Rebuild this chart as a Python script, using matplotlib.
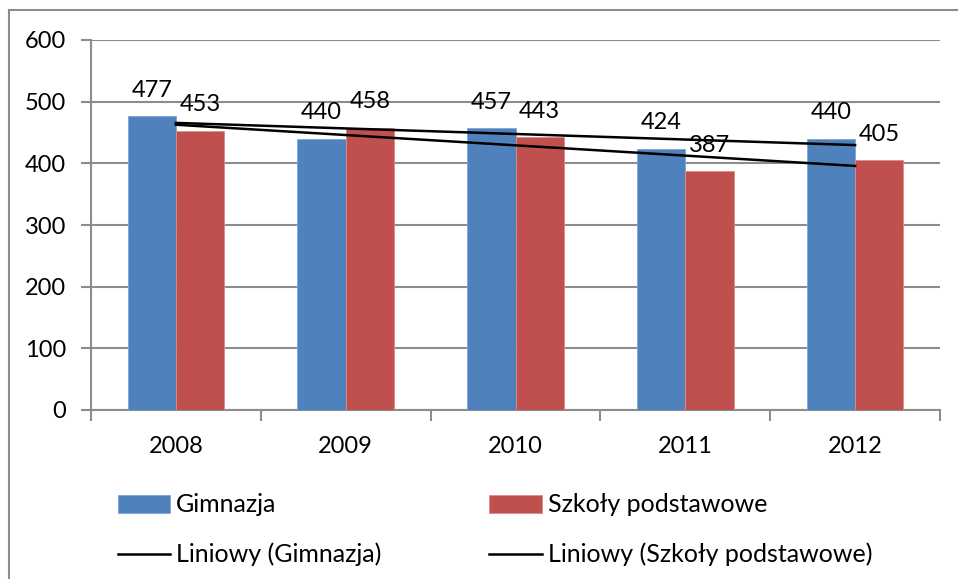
import numpy as np
import matplotlib.pyplot as plt
from matplotlib.patches import Rectangle

# --- DATA ---
years = ["2008", "2009", "2010", "2011", "2012"]
gimnazja = [477, 440, 457, 424, 440]
szkoly = [453, 458, 443, 387, 405]
series_names = ["Gimnazja", "Szkoły podstawowe"]

blue = "#4F81BD"
red = "#C0504D"
grid_col = "#8C8C8C"

plt.rcParams['font.family'] = ['Lato', 'DejaVu Sans']
fs = 17
fs_leg = 18

fig = plt.figure(figsize=(9.58, 5.79), dpi=100)
W, H = 958, 579
ax = fig.add_axes([91 / W, 1 - 410 / H, (940 - 91) / W, (410 - 40) / H])

x = np.arange(len(years))
bw = 0.285
b1 = ax.bar(x - bw / 2, gimnazja, bw, color=blue, edgecolor="#7FA6D6", linewidth=0.6, zorder=3)
b2 = ax.bar(x + bw / 2, szkoly, bw, color=red, edgecolor="#E08A88", linewidth=0.6, zorder=3)

# linear trendlines (Excel "Liniowy")
t1 = np.polyval(np.polyfit(x, gimnazja, 1), x)
t2 = np.polyval(np.polyfit(x, szkoly, 1), x)
l1, = ax.plot(x, t1, color="black", lw=1.8, zorder=4)
l2, = ax.plot(x, t2, color="black", lw=1.8, zorder=4)

for bars, vals in ((b1, gimnazja), (b2, szkoly)):
    for rect, v in zip(bars, vals):
        ax.annotate(str(v), (rect.get_x() + rect.get_width() / 2, v),
                    xytext=(0, 11), textcoords="offset points",
                    ha="center", va="bottom", fontsize=fs, zorder=5)

ax.set_xlim(-0.5, len(years) - 0.5)
ax.set_ylim(0, 600)
ax.set_yticks(range(0, 601, 100))
ax.set_xticks(x)
ax.set_xticklabels(years)
ax.set_xticks(np.arange(-0.5, len(years)), minor=True)
ax.tick_params(axis="x", which="major", length=0, pad=19, labelsize=fs)
ax.tick_params(axis="x", which="minor", length=8, width=1.5, color=grid_col, direction="out")
ax.tick_params(axis="y", length=7, width=1.5, color=grid_col, pad=11, labelsize=fs)
ax.yaxis.grid(True, color=grid_col, lw=1.5, zorder=0)
ax.set_axisbelow(True)
for s in ("top", "right"):
    ax.spines[s].set_visible(False)
for s in ("left", "bottom"):
    ax.spines[s].set_color(grid_col)
    ax.spines[s].set_linewidth(1.5)

fig.legend([b1, l1, b2, l2],
           [series_names[0], "Liniowy (" + series_names[0] + ")",
            series_names[1], "Liniowy (" + series_names[1] + ")"],
           ncol=2, loc="upper left", bbox_to_anchor=(95 / W, 1 - 471 / H),
           frameon=False, fontsize=fs_leg, handlelength=2.1, handleheight=0.72,
           handletextpad=0.25, columnspacing=4.3, labelspacing=1.05)

# chart border
fig.patches.append(Rectangle((9 / W, -0.1), 1.2, 1 - 10 / H + 0.1, transform=fig.transFigure,
                             fill=False, edgecolor="#8C8C8C", lw=1.5))

fig.savefig("out.png", dpi=100)
